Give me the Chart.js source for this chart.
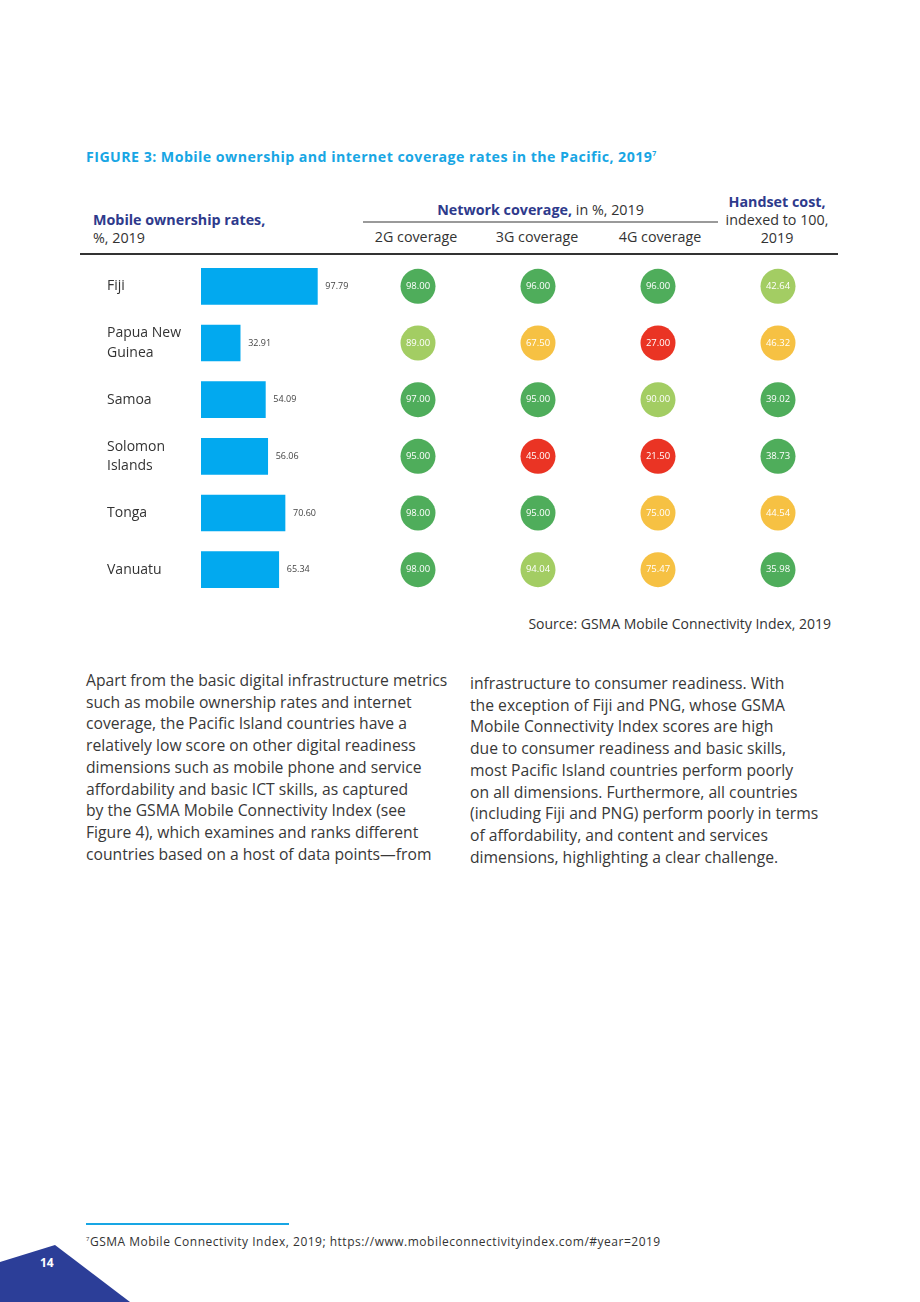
<!DOCTYPE html>
<html>
<head>
<meta charset="utf-8">
<script src="https://cdn.jsdelivr.net/npm/chart.js@4/dist/chart.umd.min.js"></script>
<style>
  html, body { margin: 0; padding: 0; background: #fff; }
  body { width: 920px; height: 1302px; position: relative; overflow: hidden; font-family: "Open Sans", sans-serif; color: #333; }
  .abs { position: absolute; white-space: nowrap; }
  .navy { color: #2e3a8c; font-weight: bold; }
  #title { left: 86px; top: 147px; font-size: 14.2px; font-weight: bold; color: #18a6e4; letter-spacing: 0.45px; }
  .hdr { font-size: 14.3px; line-height: 18px; }
  .body { font-size: 15.7px; line-height: 21.7px; color: #383838; }
  canvas { position: absolute; }
</style>
</head>
<body>
<div id="title" class="abs">FIGURE 3: Mobile ownership and internet coverage rates in the Pacific, 2019<sup style="font-size:7px">7</sup></div>

<div class="abs hdr navy" style="left:93px; top:211px;">Mobile ownership rates,</div>
<div class="abs hdr" style="left:93px; top:229px;">%, 2019</div>

<div class="abs hdr" style="left:363px; width:355px; top:201px; text-align:center;"><span class="navy">Network coverage,</span> in %, 2019</div>
<div class="abs" style="left:363px; top:221px; width:355px; height:2px; background:#9a9a9a;"></div>
<div class="abs hdr" style="left:356px; width:120px; top:228px; text-align:center;">2G coverage</div>
<div class="abs hdr" style="left:477px; width:120px; top:228px; text-align:center;">3G coverage</div>
<div class="abs hdr" style="left:600px; width:120px; top:228px; text-align:center;">4G coverage</div>

<div class="abs hdr navy" style="left:717px; width:120px; top:193px; text-align:center;">Handset cost,</div>
<div class="abs hdr" style="left:717px; width:120px; top:211px; text-align:center;">indexed to 100,</div>
<div class="abs hdr" style="left:717px; width:120px; top:229px; text-align:center;">2019</div>

<div class="abs" style="left:80px; top:253px; width:758px; height:2px; background:#333;"></div>

<canvas id="barChart" width="253" height="340" style="left:107px; top:258px;"></canvas>
<canvas id="dotChart" width="480" height="340" style="left:358px; top:258px;"></canvas>

<div class="abs" style="right:89px; top:614px; font-size:14px; color:#333;">Source: GSMA Mobile Connectivity Index, 2019</div>

<div class="abs body" style="left:86px; top:670px;">
Apart from the basic digital infrastructure metrics<br>
such as mobile ownership rates and internet<br>
coverage, the Pacific Island countries have a<br>
relatively low score on other digital readiness<br>
dimensions such as mobile phone and service<br>
affordability and basic ICT skills, as captured<br>
by the GSMA Mobile Connectivity Index (see<br>
Figure 4), which examines and ranks different<br>
countries based on a host of data points—from
</div>
<div class="abs body" style="left:470px; top:673px;">
infrastructure to consumer readiness. With<br>
the exception of Fiji and PNG, whose GSMA<br>
Mobile Connectivity Index scores are high<br>
due to consumer readiness and basic skills,<br>
most Pacific Island countries perform poorly<br>
on all dimensions. Furthermore, all countries<br>
(including Fiji and PNG) perform poorly in terms<br>
of affordability, and content and services<br>
dimensions, highlighting a clear challenge.
</div>

<div class="abs" style="left:86px; top:1223px; width:203px; height:2px; background:#18a6e4;"></div>
<div class="abs" style="left:86px; top:1233px; font-size:12px; color:#333; letter-spacing:0.5px;"><sup style="font-size:6px">7</sup>GSMA Mobile Connectivity Index, 2019; https://www.mobileconnectivityindex.com/#year=2019</div>

<svg class="abs" style="left:0; top:1240px;" width="140" height="62">
  <polygon points="0,22 55,5 130,62 0,62" fill="#2c3e98"/>
</svg>
<div class="abs" style="left:40px; top:1254px; font-size:12px; font-weight:bold; color:#fff;">14</div>

<script>
var countries = ['Fiji', 'Papua New Guinea', 'Samoa', 'Solomon Islands', 'Tonga', 'Vanuatu'];
var ownership = [97.79, 32.91, 54.09, 56.06, 70.60, 65.34];

var columns = ['2G coverage', '3G coverage', '4G coverage', 'Handset cost'];
var cov2G = [98.00, 89.00, 97.00, 95.00, 98.00, 98.00];
var cov3G = [96.00, 67.50, 95.00, 45.00, 95.00, 94.04];
var cov4G = [96.00, 27.00, 90.00, 21.50, 75.00, 75.47];
var handset = [42.64, 46.32, 39.02, 38.73, 44.54, 35.98];

// rating of each cell: 1 = best ... 4 = worst
var rate2G = [1, 2, 1, 1, 1, 1];
var rate3G = [1, 3, 1, 4, 1, 2];
var rate4G = [1, 4, 2, 4, 3, 3];
var rateHandset = [2, 3, 1, 1, 3, 1];

var rateColors = { 1: '#4fad5b', 2: '#a3cd63', 3: '#f6c143', 4: '#ea3424' };

function splitName(n) {
    var i = n.lastIndexOf(' ');
    return i > 0 ? [n.substring(0, i), n.substring(i + 1)] : n;
}

var barLabels = {
    id: 'barLabels',
    afterDatasetsDraw: function (chart) {
        var ctx = chart.ctx;
        ctx.save();
        ctx.font = '9px "Open Sans"';
        ctx.fillStyle = '#444';
        ctx.textAlign = 'left';
        ctx.textBaseline = 'middle';
        chart.getDatasetMeta(0).data.forEach(function (bar, i) {
            ctx.fillText(ownership[i].toFixed(2), bar.x + 8, bar.y);
        });
        ctx.restore();
    }
};

new Chart(document.getElementById('barChart'), {
    type: 'bar',
    data: {
        labels: countries.map(splitName),
        datasets: [{
            data: ownership,
            backgroundColor: '#02a9ef',
            borderWidth: 0,
            barThickness: 36,
        }],
    },
    options: {
        indexAxis: 'y',
        responsive: false,
        animation: false,
        events: [],
        layout: { padding: { left: 0, right: 40, top: 0, bottom: 0 } },
        plugins: { legend: { display: false }, tooltip: { enabled: false } },
        scales: {
            x: { display: false, min: 0, max: 100 },
            y: {
                grid: { display: false },
                border: { display: false },
                afterFit: function (scale) {
                    scale.width = 94;
                    scale.paddingTop = 0;
                    scale.paddingBottom = 0;
                },
                ticks: {
                    crossAlign: 'far',
                    padding: 0,
                    color: '#333',
                    font: { family: 'Open Sans', size: 14, lineHeight: 1.36 },
                },
            },
        },
    },
    plugins: [barLabels],
});

var colValues = [cov2G, cov3G, cov4G, handset];
var colRates = [rate2G, rate3G, rate4G, rateHandset];

var dotLabels = {
    id: 'dotLabels',
    afterDatasetsDraw: function (chart) {
        var ctx = chart.ctx;
        ctx.save();
        ctx.font = '9.5px "Open Sans"';
        ctx.fillStyle = '#fff';
        ctx.textAlign = 'center';
        ctx.textBaseline = 'middle';
        chart.data.datasets.forEach(function (ds, c) {
            chart.getDatasetMeta(c).data.forEach(function (pt, i) {
                ctx.fillText(colValues[c][i].toFixed(2), pt.x, pt.y);
            });
        });
        ctx.restore();
    }
};

new Chart(document.getElementById('dotChart'), {
    type: 'scatter',
    data: {
        datasets: columns.map(function (col, c) {
            return {
                label: col,
                data: countries.map(function (n) { return { x: col, y: n }; }),
                backgroundColor: colRates[c].map(function (r) { return rateColors[r]; }),
                borderWidth: 0,
                pointRadius: 17.5,
            };
        }),
    },
    options: {
        responsive: false,
        animation: false,
        events: [],
        layout: { padding: 0, autoPadding: false },
        plugins: { legend: { display: false }, tooltip: { enabled: false } },
        scales: {
            x: { type: 'category', labels: columns, offset: true, display: false },
            y: { type: 'category', labels: countries, offset: true, display: false },
        },
    },
    plugins: [dotLabels],
});
</script>
</body>
</html>
